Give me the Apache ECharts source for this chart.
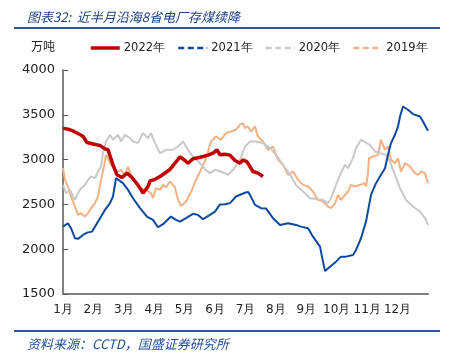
<!DOCTYPE html>
<html><head><meta charset="utf-8">
<script src="https://cdn.jsdelivr.net/npm/echarts@6/dist/echarts.min.js"></script>
<style>html,body{margin:0;padding:0;background:#fff}#c{width:460px;height:361px}</style>
</head><body><div id="c"></div>
<script>
const monthLabels = ['1月','2月','3月','4月','5月','6月','7月','8月','9月','10月','11月','12月'];
const yTicks = [1500, 2000, 2500, 3000, 3500, 4000];
const seriesNames = ['2022年','2021年','2020年','2019年'];

// day-of-year and value (万吨)
const days2022 = [0,5,10,14,20,24,30,37,42,45,47,50,54,59,64,69,74,77,80,85,87,92,97,102,107,112,117,122,125,130,135,140,145,150,154,157,162,167,172,177,180,184,190,195,200];
const vals2022 = [3350,3340,3320,3296,3260,3190,3175,3157,3120,3110,3128,2942,2830,2800,2849,2800,2730,2681,2625,2699,2763,2780,2811,2850,2890,2960,3030,2990,2960,3010,3020,3034,3050,3072,3109,3053,3060,3050,2990,2960,2997,2975,2867,2849,2811];

const days2021 = [0,5,8,12,15,20,24,29,32,37,42,47,50,53,55,60,65,70,77,84,90,95,100,108,113,117,123,130,135,140,147,152,157,162,167,173,182,185,187,192,198,203,210,217,225,233,238,245,250,257,260,262,267,273,278,283,290,293,298,303,308,313,318,322,325,328,332,335,337,340,345,350,357,360,365];
const vals2021 = [2252,2290,2234,2122,2115,2159,2185,2196,2252,2346,2439,2514,2588,2793,2800,2737,2662,2569,2458,2364,2327,2245,2279,2364,2327,2308,2346,2395,2383,2335,2383,2420,2500,2502,2514,2588,2630,2640,2606,2495,2458,2455,2346,2271,2290,2271,2252,2234,2140,2029,1861,1757,1805,1861,1917,1917,1936,1992,2122,2308,2606,2737,2830,2904,3053,3184,3277,3370,3481,3593,3556,3508,3481,3426,3322];

const days2020 = [0,3,7,10,12,15,18,22,25,28,32,35,38,40,43,47,50,55,58,62,67,70,75,80,85,88,92,97,103,110,115,120,125,130,137,142,147,152,158,165,170,177,182,187,193,200,207,213,220,227,233,240,247,253,260,265,268,273,277,282,285,290,293,298,302,307,312,317,323,327,332,337,343,350,357,362,365];
const vals2020 = [2718,2625,2662,2588,2550,2625,2681,2718,2774,2811,2793,2867,2923,3072,3202,3277,3221,3277,3202,3277,3239,3202,3184,3296,3239,3296,3184,3072,3109,3109,3146,3202,3109,3034,2960,2893,2849,2886,2867,2830,2886,2997,3146,3202,3202,3184,3128,3053,2942,2830,2718,2644,2569,2560,2550,2514,2569,2718,2830,2942,2904,3016,3128,3221,3195,3165,3090,3072,3053,2978,2830,2681,2550,2476,2420,2346,2271];

const days2019 = [0,2,5,8,12,15,18,22,25,28,32,35,38,41,43,45,48,52,55,58,62,65,68,73,78,83,88,90,93,97,100,103,107,112,115,118,123,128,133,138,143,148,153,158,163,168,173,177,180,182,185,188,192,195,200,205,210,215,220,225,230,235,240,245,250,255,260,265,268,272,275,278,282,285,288,292,297,302,303,305,306,310,315,318,322,325,328,332,335,338,342,347,352,355,358,362,365];
const vals2019 = [2904,2774,2699,2588,2476,2383,2402,2364,2402,2458,2514,2588,2774,2923,3053,3016,2942,2886,2867,2886,2830,2923,2830,2737,2681,2662,2625,2569,2681,2662,2718,2690,2755,2690,2550,2483,2530,2640,2774,2886,3016,3202,3258,3221,3296,3314,3333,3389,3408,3352,3370,3314,3370,3258,3202,3109,3146,2997,2942,2830,2867,2774,2718,2699,2644,2550,2532,2476,2458,2514,2606,2550,2606,2644,2718,2699,2718,2737,2699,2849,3016,3034,3053,3221,3109,3146,2997,2960,3016,2867,2960,2923,2849,2830,2867,2849,2737];

const colors = ['#C00000','#0B4A9E','#C9C9C9','#F4B183'];
const widths = [3.5, 2, 2, 2];
const DAYS_PER_MONTH = 365/12;
function pairs(d, v){ return d.map((x,i)=>[x/DAYS_PER_MONTH, v[i]]); }
const allDays = [days2022, days2021, days2020, days2019];
const allVals = [vals2022, vals2021, vals2020, vals2019];

const chart = echarts.init(document.getElementById('c'), null, {renderer:'canvas'});
chart.setOption({
  animation:false,
  backgroundColor:'#fff',
  title:[
    {text:'图表32:  近半月沿海8省电厂存煤续降', left:22, top:6,
     textStyle:{fontFamily:'Noto Sans CJK SC', fontSize:13, fontWeight:'normal', fontStyle:'italic', color:'#1F3F86'}},
    {text:'资料来源：CCTD，国盛证券研究所', left:22, top:333,
     textStyle:{fontFamily:'Noto Sans CJK SC', fontSize:13, fontWeight:'normal', fontStyle:'italic', color:'#1F4E9A'}}
  ],
  graphic:[
    {type:'line', shape:{x1:14,y1:28,x2:440,y2:28}, style:{stroke:'#2F5597', lineWidth:2}},
    {type:'line', shape:{x1:14,y1:331,x2:440,y2:331}, style:{stroke:'#2F5597', lineWidth:2}}
  ],
  legend:{
    left:84, top:37, itemWidth:29, itemHeight:12, itemGap:12,
    itemStyle:{opacity:0},
    textStyle:{fontFamily:'DejaVu Sans', fontSize:11.5, color:'#222', padding:[0,0,0,-1]},
    data:seriesNames.map((n,i)=>({name:n, lineStyle:{type: i===0?'solid':[6,3.5], width: i===0?3.5:2.5, color:colors[i]}}))
  },
  grid:{left:63, right:32, top:70, bottom:67},
  xAxis:{
    type:'value', min:0, max:12, interval:1,
    axisLine:{show:true, onZero:false, lineStyle:{color:'#7F7F7F', width:2}},
    axisTick:{show:false},
    splitLine:{show:false},
    axisLabel:{margin:10, fontFamily:'DejaVu Sans', fontSize:12, color:'#222',
      formatter:v=> (v<12 ? monthLabels[Math.round(v)] : '')}
  },
  yAxis:{
    type:'value', min:yTicks[0], max:yTicks[yTicks.length-1], interval:500,
    name:'万吨', nameLocation:'end', nameGap:18,
    nameTextStyle:{fontFamily:'Noto Sans CJK SC', fontSize:12, color:'#222', align:'right', padding:[0,8,0,0]},
    axisLine:{show:true, lineStyle:{color:'#595959', width:1.5}},
    axisTick:{show:true, inside:true, length:5, lineStyle:{color:'#595959'}},
    splitLine:{show:false},
    axisLabel:{margin:8, fontFamily:'DejaVu Sans', fontSize:13, color:'#222', formatter:v=>String(v)}
  },
  series:seriesNames.map((n,i)=>({
    name:n, type:'line', showSymbol:false, symbol:'none',
    data:pairs(allDays[i], allVals[i]),
    lineStyle:{color:colors[i], width:widths[i]},
    itemStyle:{color:colors[i]},
    z: 10 - i
  }))
});
</script></body></html>
